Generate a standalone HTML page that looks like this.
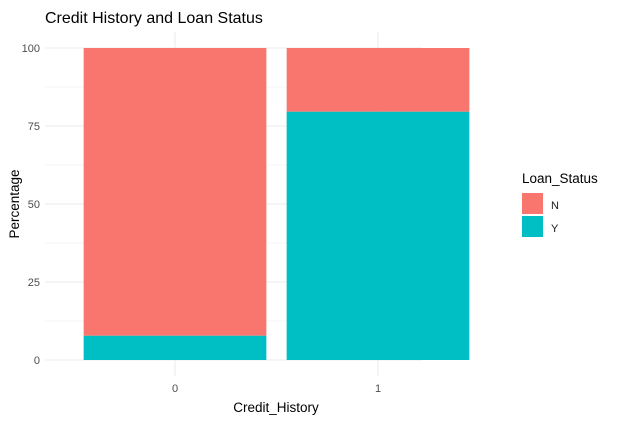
<!DOCTYPE html>
<html><head><meta charset="utf-8"><style>
body{margin:0;background:#fff;font-family:"Liberation Sans",sans-serif}
</style></head><body>
<svg id="c" width="619" height="421" xmlns="http://www.w3.org/2000/svg">
<text x="45" y="23" font-size="16" fill="#000">Credit History and Loan Status</text>
<g id="grid"></g><g id="bars"></g><g id="axes"></g>
<text x="276" y="412" font-size="13.5" text-anchor="middle" fill="#000">Credit_History</text>
<text transform="translate(19,204) rotate(-90)" font-size="13.5" text-anchor="middle" fill="#000">Percentage</text>
<g>
<text x="522" y="183" font-size="13.5" fill="#000">Loan_Status</text>
<rect x="522" y="193" width="21" height="21" fill="#F8766D"/>
<text x="551" y="209" font-size="11" fill="#1a1a1a">N</text>
<rect x="522" y="216" width="21" height="21" fill="#00BFC4"/>
<text x="551" y="232" font-size="11" fill="#1a1a1a">Y</text>
</g>
</svg>
<script>
const categories=["0","1"];
const seriesY=[7.8,79.6];
const seriesN=[92.2,20.4];
const yTicks=[0,25,50,75,100];
const NS="http://www.w3.org/2000/svg";
const L=45,R=422,T=32,B=376;
const y=v=>360-v*3.12;
const bandW=203, x0=175;
const x=i=>x0+i*bandW;
function mk(t,a,p){const e=document.createElementNS(NS,t);for(const k in a)e.setAttribute(k,a[k]);document.getElementById(p).appendChild(e);return e;}
for(let v=0;v<=100;v+=12.5){
 const l=mk('line',{x1:L,x2:R,y1:y(v),y2:y(v),stroke:'#ebebeb','stroke-width':v%25?0.6:1.1},'grid');
 
 
}
categories.forEach((c,i)=>{
 const l=mk('line',{x1:x(i),x2:x(i),y1:T,y2:B,stroke:'#ebebeb','stroke-width':1.1},'grid');
 
 
 const t=mk('text',{x:x(i),y:392,'font-size':11,'text-anchor':'middle',fill:'#4d4d4d'},'axes');
 t.textContent=c;
 
 
 const w=bandW*0.9;
 const by=mk('rect',{x:x(i)-w/2,y:y(seriesY[i]),width:w,height:y(0)-y(seriesY[i]),fill:'#00BFC4'},'bars');
 
 
 const bn=mk('rect',{x:x(i)-w/2,y:y(seriesY[i]+seriesN[i]),width:w,height:y(seriesY[i])-y(seriesY[i]+seriesN[i]),fill:'#F8766D'},'bars');
 
 
});
yTicks.forEach(v=>{
 const t=mk('text',{x:40,y:y(v)+4,'font-size':11,'text-anchor':'end',fill:'#4d4d4d'},'axes');
 t.textContent=v;
 
 
});
</script>
</body></html>
